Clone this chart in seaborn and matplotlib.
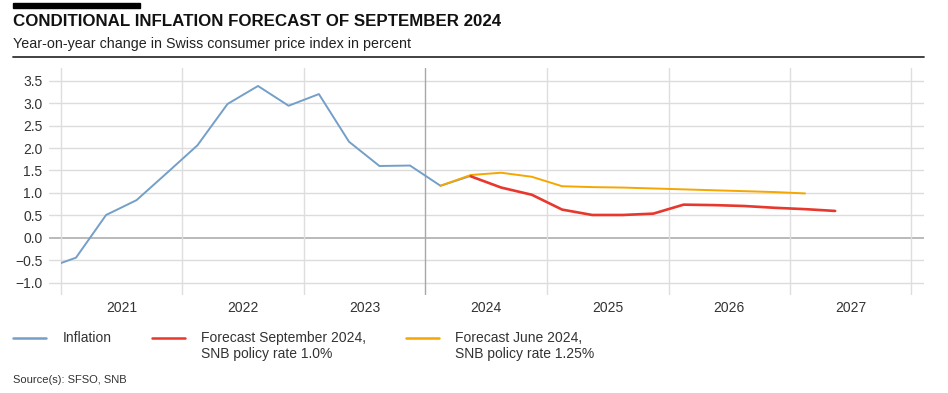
import matplotlib
matplotlib.use("Agg")
import numpy as np
import matplotlib.pyplot as plt
import matplotlib.dates as mdates
from matplotlib.lines import Line2D
from matplotlib.patches import Rectangle
from matplotlib.legend_handler import HandlerLine2D
import seaborn as sns
import pandas as pd

# ---------------- data ----------------
inflation_quarters = ["2020Q4", "2021Q1", "2021Q2", "2021Q3", "2021Q4",
                      "2022Q1", "2022Q2", "2022Q3", "2022Q4",
                      "2023Q1", "2023Q2", "2023Q3", "2023Q4",
                      "2024Q1", "2024Q2"]
inflation_values = [-0.68, -0.44, 0.51, 0.84, 1.45,
                    2.06, 2.98, 3.38, 2.94,
                    3.20, 2.14, 1.60, 1.61,
                    1.16, 1.38]

june_quarters = ["2024Q1", "2024Q2", "2024Q3", "2024Q4",
                 "2025Q1", "2025Q2", "2025Q3", "2025Q4",
                 "2026Q1", "2026Q2", "2026Q3", "2026Q4", "2027Q1"]
june_values = [1.16, 1.40, 1.45, 1.36,
               1.15, 1.13, 1.12, 1.10,
               1.08, 1.06, 1.04, 1.02, 0.99]

sept_quarters = ["2024Q2", "2024Q3", "2024Q4",
                 "2025Q1", "2025Q2", "2025Q3", "2025Q4",
                 "2026Q1", "2026Q2", "2026Q3", "2026Q4",
                 "2027Q1", "2027Q2"]
sept_values = [1.37, 1.12, 0.96,
               0.63, 0.51, 0.51, 0.54,
               0.74, 0.73, 0.71, 0.67,
               0.64, 0.60]

years = [2021, 2022, 2023, 2024, 2025, 2026, 2027]
y_ticks = [-1.0, -0.5, 0.0, 0.5, 1.0, 1.5, 2.0, 2.5, 3.0, 3.5]

label_infl = "Inflation"
label_sept = "Forecast September 2024,\nSNB policy rate 1.0%"
label_june = "Forecast June 2024,\nSNB policy rate 1.25%"

title = "CONDITIONAL INFLATION FORECAST OF SEPTEMBER 2024"
subtitle = "Year-on-year change in Swiss consumer price index in percent"
source = "Source(s): SFSO, SNB"

c_blue = "#739fc9"
c_red = "#e8372c"
c_orange = "#f5a700"


def mid_quarter(q):
    p = pd.Period(q, freq="Q")
    return p.start_time + (p.end_time - p.start_time) / 2


frames = []
for qs, vals, name in [(inflation_quarters, inflation_values, label_infl),
                       (sept_quarters, sept_values, label_sept),
                       (june_quarters, june_values, label_june)]:
    frames.append(pd.DataFrame({"date": [mid_quarter(q) for q in qs],
                                "value": vals, "series": name}))
df = pd.concat(frames, ignore_index=True)

# ---------------- figure ----------------
sns.set_theme(style="white")
plt.rcParams["font.family"] = ["Liberation Sans", "DejaVu Sans"]

W, H = 948, 393
fig = plt.figure(figsize=(W / 100, H / 100), dpi=100)
ax = fig.add_axes([49.3 / W, 1 - 295 / H, (924 - 49.3) / W, (295 - 68) / H])

palette = {label_infl: c_blue, label_sept: c_red, label_june: c_orange}
widths = {label_infl: 1.4, label_sept: 1.9, label_june: 1.4}

# grid lines
for v in y_ticks:
    ax.axhline(v, color="#b4b4b4" if v == 0 else "#dcdcdc",
               lw=1.3 if v == 0 else 1.0, zorder=1)
for yr in years + [years[-1] + 1]:
    ax.axvline(pd.Timestamp(f"{yr}-01-01"),
               color="#a8a8a8" if yr == 2024 else "#dedede", lw=1.0, zorder=1)

x_start = mdates.date2num(pd.Timestamp(f"{years[0]}-01-01"))
x_end = mdates.date2num(pd.Timestamp(f"{years[-1] + 1}-01-01"))
clip_rect = Rectangle((x_start, -10), x_end - x_start, 20,
                      transform=ax.transData, visible=False)
ax.add_patch(clip_rect)

for name in [label_infl, label_june, label_sept]:
    sub = df[df["series"] == name]
    sns.lineplot(data=sub, x="date", y="value", ax=ax, color=palette[name],
                 lw=widths[name], zorder=3, legend=False)
    ax.lines[-1].set_clip_path(clip_rect)

ax.set_xlim(x_start - 35.2, x_end + 37.6)
ax.set_ylim(-1.27, 3.78)

ax.set_yticks(y_ticks)
ax.set_yticklabels([f"{v:.1f}".replace("-", "\u2212") for v in y_ticks])
ax.set_xticks([pd.Timestamp(f"{yr}-07-02") for yr in years])
ax.set_xticklabels([str(yr) for yr in years])
ax.tick_params(axis="both", length=0, labelsize=10, colors="#333333")
ax.tick_params(axis="y", pad=5)
ax.tick_params(axis="x", pad=4.5)
ax.set_xlabel("")
ax.set_ylabel("")
for s in ax.spines.values():
    s.set_visible(False)

# header
fig.patches.append(Rectangle((13 / W, 1 - 7.5 / H), (140 - 13) / W, 4.5 / H,
                             transform=fig.transFigure, color="black"))
fig.text(13 / W, 1 - 21.5 / H, title, fontsize=12.2, fontweight="bold",
         color="#111111", va="center", ha="left")
fig.text(13 / W, 1 - 44 / H, subtitle, fontsize=10.25, color="#222222",
         va="center", ha="left")
fig.lines.append(Line2D([13 / W, 924 / W], [1 - 56.5 / H, 1 - 56.5 / H],
                        transform=fig.transFigure, color="#333333", lw=1.3))


# legend: every entry has two lines; handles sit on the first line
class TopLineHandler(HandlerLine2D):
    def __init__(self, dy, **kw):
        super().__init__(**kw)
        self.dy = dy

    def create_artists(self, legend, orig_handle, xdescent, ydescent,
                       width, height, fontsize, trans):
        arts = super().create_artists(legend, orig_handle, xdescent, ydescent,
                                      width, height, fontsize, trans)
        for a in arts:
            if isinstance(a, Line2D):
                a.set_ydata(np.asarray(a.get_ydata(), dtype=float) + self.dy)
        return arts


handles = [Line2D([], [], color=palette[n], lw=1.8) for n in
           [label_infl, label_sept, label_june]]
leg_labels = [label_infl + "\n ", label_sept, label_june]
leg = fig.legend(handles, leg_labels,
                 loc="upper left", bbox_to_anchor=(13 / W, 1 - 331 / H),
                 ncol=3, frameon=False, fontsize=10, handlelength=2.4,
                 handletextpad=1.15, columnspacing=2.9, borderpad=0,
                 borderaxespad=0, labelspacing=0.2,
                 handler_map={Line2D: TopLineHandler(dy=6.0)})
for t in leg.get_texts():
    t.set_color("#333333")
    t.set_linespacing(1.15)

fig.text(13 / W, 1 - 380 / H, source, fontsize=8, color="#333333",
         va="center", ha="left")

fig.savefig("out.png", dpi=100)
